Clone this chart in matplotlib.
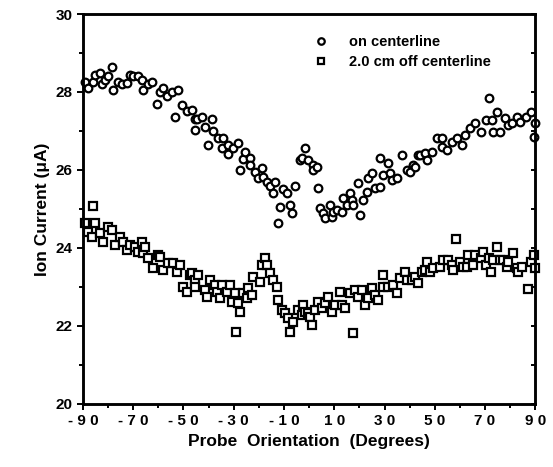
"""
Ion current vs. probe orientation, on and off the centerline.
"""
import numpy as np
from matplotlib import pyplot as plt
from matplotlib.ticker import MultipleLocator

plt.rcParams['font.family'] = ['Liberation Sans', 'DejaVu Sans']
plt.rcParams['font.weight'] = 'bold'

# on centerline: (angle in degrees, current in uA)
on_angle = [
    -89.2, -88.0, -86.0, -85.2, -83.2, -82.5, -81.3, -80.0, -78.5, -78.0,
    -76.0, -74.5, -72.5, -71.3, -70.0, -68.0, -66.5, -66.0, -64.0, -62.5,
    -60.6, -59.4, -58.2, -56.6, -54.6, -53.4, -52.3, -50.7, -48.7, -46.5,
    -45.5, -45.5, -44.7, -42.7, -41.5, -40.3, -38.7, -38.3, -36.4, -34.8,
    -34.4, -32.4, -32.4, -30.4, -28.4, -27.6, -26.4, -25.6, -23.7, -23.7,
    -21.7, -20.5, -18.9, -18.5, -16.9, -15.7, -14.5, -13.7, -12.5, -11.7,
    -10.5, -9.0, -7.8, -7.0, -5.6, -3.6, -2.7, -1.6, -0.4, 1.6,
    1.6, 3.2, 3.6, 4.4, 5.6, 6.4, 8.4, 9.2, 9.6, 11.2,
    13.2, 13.6, 15.2, 16.4, 17.2, 17.6, 19.6, 20.4, 21.6, 23.1,
    23.5, 25.1, 26.3, 28.3, 28.3, 29.5, 31.5, 32.3, 33.1, 35.1,
    37.1, 39.1, 40.3, 41.5, 42.3, 43.5, 44.3, 46.3, 47.1, 49.0,
    51.0, 53.0, 53.0, 55.0, 57.0, 59.0, 61.0, 62.2, 64.2, 66.2,
    68.2, 70.2, 71.4, 72.9, 73.3, 74.9, 76.1, 78.1, 79.3, 80.9,
    82.9, 84.1, 86.1, 88.1, 89.3, 90.0,
]
on_current = [
    28.26, 28.10, 28.26, 28.44, 28.50, 28.20, 28.30, 28.40, 28.64, 28.05,
    28.26, 28.20, 28.24, 28.44, 28.40, 28.40, 28.30, 28.05, 28.20, 28.26,
    27.70, 28.00, 28.10, 27.90, 28.00, 27.37, 28.05, 27.67, 27.50, 27.54,
    27.30, 27.03, 27.30, 27.37, 27.10, 26.65, 27.30, 27.00, 26.83, 26.57,
    26.83, 26.65, 26.40, 26.57, 26.70, 26.00, 26.27, 26.47, 26.30, 26.14,
    25.96, 25.80, 26.06, 25.83, 25.68, 25.58, 25.42, 25.68, 24.65, 25.04,
    25.50, 25.42, 25.10, 24.90, 25.58, 26.26, 26.30, 26.57, 26.26, 26.13,
    26.00, 26.08, 25.55, 25.03, 24.90, 24.77, 25.10, 24.80, 24.92, 24.97,
    24.92, 25.28, 25.10, 25.40, 25.23, 25.10, 25.67, 24.85, 25.23, 25.44,
    25.80, 25.92, 25.54, 25.56, 26.30, 25.87, 26.18, 25.92, 25.74, 25.80,
    26.38, 26.00, 25.95, 26.13, 26.08, 26.38, 26.38, 26.44, 26.26, 26.46,
    26.82, 26.82, 26.60, 26.51, 26.72, 26.82, 26.64, 26.90, 27.08, 27.20,
    26.97, 27.28, 27.85, 27.28, 26.97, 27.49, 26.97, 27.33, 27.15, 27.20,
    27.36, 27.23, 27.36, 27.49, 26.85, 27.20,
]

# 2.0 cm off centerline
off_angle = [
    -89.2, -88.0, -86.4, -86.0, -85.2, -83.2, -82.0, -80.0, -78.4, -77.3,
    -75.3, -74.1, -72.5, -71.3, -69.3, -68.1, -66.5, -66.0, -65.3, -64.1,
    -62.1, -60.1, -59.3, -58.1, -56.1, -54.1, -52.5, -51.4, -50.2, -48.6,
    -47.4, -46.6, -45.4, -45.4, -44.2, -41.4, -40.6, -39.4, -37.4, -36.6,
    -35.4, -34.6, -32.6, -31.4, -30.6, -29.4, -29.0, -28.2, -27.4, -26.3,
    -24.7, -24.3, -22.7, -22.3, -19.5, -18.7, -17.5, -16.7, -15.5, -14.3,
    -12.7, -12.3, -10.7, -9.5, -8.3, -7.5, -6.3, -4.3, -2.8, -2.4,
    -1.6, -0.4, 0.4, 1.2, 2.4, 3.6, 5.2, 6.4, 7.6, 9.2,
    10.4, 12.4, 13.2, 14.4, 16.4, 17.6, 18.4, 19.6, 21.2, 22.4,
    23.5, 25.1, 26.3, 27.5, 29.5, 29.5, 31.5, 33.5, 35.1, 36.3,
    38.3, 39.1, 41.1, 42.3, 43.5, 45.1, 46.3, 47.1, 48.2, 49.4,
    52.2, 53.4, 55.4, 57.0, 57.4, 58.6, 60.2, 61.4, 63.0, 63.4,
    65.4, 66.2, 68.2, 69.0, 70.2, 71.4, 72.2, 73.3, 74.9, 76.1,
    77.3, 78.9, 79.3, 81.3, 82.9, 83.3, 84.9, 86.9, 88.1, 89.3,
    90.0,
]
off_current = [
    24.64, 24.41, 24.28, 25.08, 24.64, 24.38, 24.15, 24.54, 24.46, 24.08,
    24.28, 24.15, 23.95, 24.08, 24.03, 23.90, 24.15, 23.87, 24.03, 23.74,
    23.49, 23.82, 23.77, 23.44, 23.62, 23.62, 23.38, 23.56, 23.00, 22.87,
    23.31, 23.36, 23.18, 23.00, 23.31, 22.92, 22.74, 23.18, 23.05, 22.87,
    22.72, 23.05, 22.87, 23.05, 22.62, 22.85, 21.85, 22.59, 22.36, 22.85,
    22.72, 22.97, 22.79, 23.26, 23.13, 23.56, 23.74, 23.56, 23.36, 23.18,
    23.00, 22.67, 22.41, 22.33, 22.21, 21.85, 22.10, 22.41, 22.28, 22.54,
    22.36, 22.33, 22.23, 22.03, 22.41, 22.62, 22.46, 22.59, 22.74, 22.36,
    22.54, 22.87, 22.54, 22.46, 22.85, 21.82, 22.92, 22.74, 22.92, 22.54,
    22.72, 22.97, 22.79, 22.67, 23.31, 23.00, 23.00, 23.05, 22.85, 23.23,
    23.38, 23.18, 23.18, 23.26, 23.10, 23.38, 23.44, 23.64, 23.38, 23.49,
    23.51, 23.69, 23.69, 23.56, 23.44, 24.23, 23.64, 23.51, 23.51, 23.82,
    23.56, 23.82, 23.74, 23.90, 23.56, 23.74, 23.38, 23.69, 24.03, 23.69,
    23.69, 23.51, 23.64, 23.87, 23.49, 23.38, 23.51, 22.95, 23.64, 23.82,
    23.49,
]

x_ticks = [-90, -70, -50, -30, -10, 10, 30, 50, 70, 90]
x_labels = ['- 9 0', '- 7 0', '- 5 0', '- 3 0', '- 1 0', '1 0', '3 0', '5 0', '7 0', '9 0']
y_ticks = [20, 22, 24, 26, 28, 30]

fig = plt.figure(figsize=(5.53, 4.67), dpi=100)
ax = fig.add_axes([0.150, 0.135, 0.818, 0.835])

ax.plot(on_angle, on_current, 'o', ls='none', mfc='white', mec='black',
        ms=5.5, mew=1.6, label='on centerline', clip_on=False)
ax.plot(off_angle, off_current, 's', ls='none', mfc='white', mec='black',
        ms=5.5, mew=1.6, label='2.0 cm off centerline', clip_on=False)

ax.set_xlim(-90, 90)
ax.set_ylim(20, 30)
ax.set_xticks(x_ticks)
ax.set_xticklabels(x_labels)
ax.xaxis.set_minor_locator(MultipleLocator(10))
ax.set_yticks(y_ticks)
ax.yaxis.set_minor_locator(MultipleLocator(1))

ax.tick_params(axis='both', which='both', direction='out', width=1.4, labelsize=11)
ax.tick_params(axis='both', which='major', length=4)
ax.tick_params(axis='both', which='minor', length=3)

# inward ticks along the right edge, no labels
ax_r = ax.twinx()
ax_r.set_ylim(ax.get_ylim())
ax_r.yaxis.set_major_locator(MultipleLocator(1))
ax_r.tick_params(axis='y', direction='in', length=3, width=1.4, labelright=False)

for a in (ax, ax_r):
    for side in a.spines.values():
        side.set_linewidth(1.8)

ax.set_xlabel('Probe  Orientation  (Degrees)', fontsize=12.5, fontweight='bold')
ax.set_ylabel('Ion Current (\u03bcA)', fontsize=12.5, fontweight='bold')

leg = ax.legend(loc='upper right', bbox_to_anchor=(0.93, 0.98), frameon=False,
                prop={'weight': 'bold', 'size': 10.5}, handletextpad=0.9,
                labelspacing=0.45, markerscale=0.85)

plt.savefig('out.png', dpi=100)
